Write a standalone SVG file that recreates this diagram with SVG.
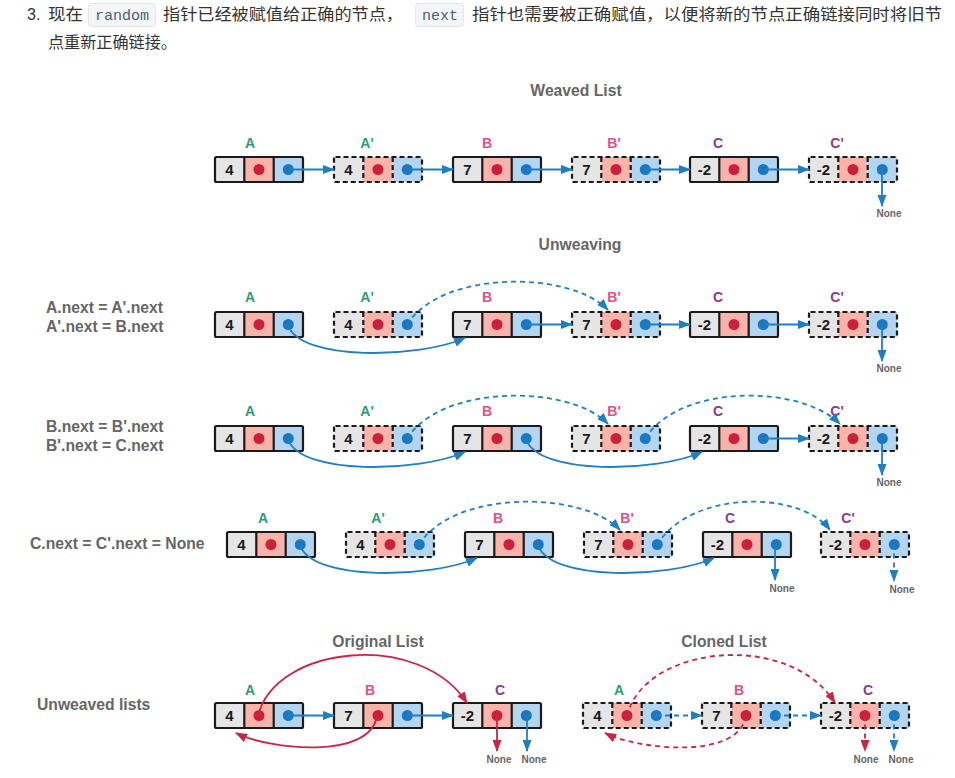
<svg xmlns="http://www.w3.org/2000/svg" xmlns:xlink="http://www.w3.org/1999/xlink" width="955" height="778" viewBox="0 0 955 778">
<style>
.body{font-family:"Noto Sans CJK SC","Liberation Sans",sans-serif;font-size:16px;fill:#333}
.num{font-family:"Liberation Sans",Arial,sans-serif;font-size:16px;fill:#333}
.code{font-family:"Liberation Mono","DejaVu Sans Mono",monospace;font-size:15px;fill:#4a6079}
.codebox{fill:#f3f5f7;stroke:#e2e6ea;stroke-width:1}
.title{font-family:"Liberation Sans",Arial,sans-serif;font-weight:bold;font-size:15.7px;fill:#666;text-anchor:middle}
.side{font-family:"Liberation Sans",Arial,sans-serif;font-weight:bold;font-size:15.7px;fill:#666}
.val{font-family:"Liberation Sans",Arial,sans-serif;font-weight:bold;font-size:15px;fill:#1a1a1a;text-anchor:middle}
.lbl{font-family:"Liberation Sans",Arial,sans-serif;font-weight:bold;font-size:14px;text-anchor:middle}
.la{fill:#2a9d78}.lb{fill:#e2508a}.lc{fill:#8c3a8f}
.none{font-family:"Liberation Sans",Arial,sans-serif;font-weight:bold;font-size:10px;fill:#666;text-anchor:middle}
.cb{fill:none;stroke:#1f7fc4;stroke-width:1.8;marker-end:url(#ab)}
.cr{fill:none;stroke:#cc2444;stroke-width:1.8;marker-end:url(#ar)}
.dash{stroke-dasharray:5 4}
</style>
<defs>
<marker id="ab" markerUnits="userSpaceOnUse" markerWidth="12" markerHeight="9" refX="11" refY="4.5" orient="auto"><path d="M0,0 L12,4.5 L0,9 z" fill="#1f7fc4"/></marker>
<marker id="ar" markerUnits="userSpaceOnUse" markerWidth="12" markerHeight="9" refX="11" refY="4.5" orient="auto"><path d="M0,0 L12,4.5 L0,9 z" fill="#cc2444"/></marker>
<g id="ns">
<rect x="0" y="0" width="29.3" height="25" fill="#e5e5e5"/>
<rect x="29.3" y="0" width="29.4" height="25" fill="#f8b4ab"/>
<rect x="58.7" y="0" width="29.3" height="25" fill="#b4d5ef"/>
<rect x="0" y="0" width="88" height="25" rx="1.5" fill="none" stroke="#1a1a1a" stroke-width="2.2"/>
<path d="M29.3,0V25M58.7,0V25" stroke="#1a1a1a" stroke-width="2.2"/>
<circle cx="44" cy="12.5" r="5.5" fill="#cc1f3d"/>
<circle cx="73.3" cy="12.5" r="5.5" fill="#1a78c2"/>
</g>
<g id="nd">
<rect x="0" y="0" width="29.3" height="25" fill="#e5e5e5"/>
<rect x="29.3" y="0" width="29.4" height="25" fill="#f8b4ab"/>
<rect x="58.7" y="0" width="29.3" height="25" fill="#b4d5ef"/>
<rect x="0" y="0" width="88" height="25" rx="1.5" fill="none" stroke="#1a1a1a" stroke-width="2.2" stroke-dasharray="5 3"/>
<path d="M29.3,0V25M58.7,0V25" stroke="#1a1a1a" stroke-width="2.2" stroke-dasharray="5 3"/>
<circle cx="44" cy="12.5" r="5.5" fill="#cc1f3d"/>
<circle cx="73.3" cy="12.5" r="5.5" fill="#1a78c2"/>
</g>
</defs>
<rect width="955" height="778" fill="#fff"/>

<g id="intro">
<text class="num" x="27" y="20">3.</text>
<text class="body" x="48" y="20" textLength="35" lengthAdjust="spacingAndGlyphs">现在</text>
<rect class="codebox" x="88.5" y="3.5" width="67" height="23" rx="3"/>
<text class="code" x="95" y="20" textLength="54">random</text>
<text class="body" x="163" y="20" textLength="240" lengthAdjust="spacingAndGlyphs">指针已经被赋值给正确的节点，</text>
<rect class="codebox" x="415.5" y="3.5" width="48" height="23" rx="3"/>
<text class="code" x="422" y="20" textLength="36">next</text>
<text class="body" x="472" y="20" textLength="470" lengthAdjust="spacingAndGlyphs">指针也需要被正确赋值，以便将新的节点正确链接同时将旧节</text>
<text class="body" x="48" y="48" textLength="129" lengthAdjust="spacingAndGlyphs">点重新正确链接。</text>
</g>

<g id="titles">
<text class="title" x="576" y="96">Weaved List</text>
<text class="title" x="580" y="250">Unweaving</text>
<text class="title" x="378" y="647">Original List</text>
<text class="title" x="724" y="647">Cloned List</text>
<text class="side" x="46" y="313">A.next = A'.next</text>
<text class="side" x="46" y="332">A'.next = B.next</text>
<text class="side" x="46" y="432">B.next = B'.next</text>
<text class="side" x="46" y="451">B'.next = C.next</text>
<text class="side" x="30" y="549">C.next = C'.next = None</text>
<text class="side" x="37" y="710">Unweaved lists</text>
</g>

<!-- Row 1 -->
<g id="r1-A"><use xlink:href="#ns" x="215" y="157"/><text class="val" x="229.5" y="175">4</text><text class="lbl la" x="250" y="148">A</text></g>
<g id="r1-A2"><use xlink:href="#nd" x="334" y="157"/><text class="val" x="348.5" y="175">4</text><text class="lbl la" x="367" y="148">A'</text></g>
<g id="r1-B"><use xlink:href="#ns" x="453" y="157"/><text class="val" x="467.5" y="175">7</text><text class="lbl lb" x="487" y="148">B</text></g>
<g id="r1-B2"><use xlink:href="#nd" x="572" y="157"/><text class="val" x="586.5" y="175">7</text><text class="lbl lb" x="614" y="148">B'</text></g>
<g id="r1-C"><use xlink:href="#ns" x="690" y="157"/><text class="val" x="704.5" y="175">-2</text><text class="lbl lc" x="718" y="148">C</text></g>
<g id="r1-C2"><use xlink:href="#nd" x="809" y="157"/><text class="val" x="823.5" y="175">-2</text><text class="lbl lc" x="837" y="148">C'</text></g>
<text class="none" x="889" y="217">None</text>

<!-- Row 2 -->
<g id="r2-A"><use xlink:href="#ns" x="215" y="312"/><text class="val" x="229.5" y="330">4</text><text class="lbl la" x="250" y="302">A</text></g>
<g id="r2-A2"><use xlink:href="#nd" x="334" y="312"/><text class="val" x="348.5" y="330">4</text><text class="lbl la" x="367" y="302">A'</text></g>
<g id="r2-B"><use xlink:href="#ns" x="453" y="312"/><text class="val" x="467.5" y="330">7</text><text class="lbl lb" x="487" y="302">B</text></g>
<g id="r2-B2"><use xlink:href="#nd" x="572" y="312"/><text class="val" x="586.5" y="330">7</text><text class="lbl lb" x="614" y="302">B'</text></g>
<g id="r2-C"><use xlink:href="#ns" x="690" y="312"/><text class="val" x="704.5" y="330">-2</text><text class="lbl lc" x="718" y="302">C</text></g>
<g id="r2-C2"><use xlink:href="#nd" x="809" y="312"/><text class="val" x="823.5" y="330">-2</text><text class="lbl lc" x="837" y="302">C'</text></g>
<text class="none" x="889" y="372">None</text>

<!-- Row 3 -->
<g id="r3-A"><use xlink:href="#ns" x="215" y="426"/><text class="val" x="229.5" y="444">4</text><text class="lbl la" x="250" y="416">A</text></g>
<g id="r3-A2"><use xlink:href="#nd" x="334" y="426"/><text class="val" x="348.5" y="444">4</text><text class="lbl la" x="367" y="416">A'</text></g>
<g id="r3-B"><use xlink:href="#ns" x="453" y="426"/><text class="val" x="467.5" y="444">7</text><text class="lbl lb" x="487" y="416">B</text></g>
<g id="r3-B2"><use xlink:href="#nd" x="572" y="426"/><text class="val" x="586.5" y="444">7</text><text class="lbl lb" x="614" y="416">B'</text></g>
<g id="r3-C"><use xlink:href="#ns" x="690" y="426"/><text class="val" x="704.5" y="444">-2</text><text class="lbl lc" x="718" y="416">C</text></g>
<g id="r3-C2"><use xlink:href="#nd" x="809" y="426"/><text class="val" x="823.5" y="444">-2</text><text class="lbl lc" x="837" y="416">C'</text></g>
<text class="none" x="889" y="486">None</text>

<!-- Row 4 -->
<g id="r4-A"><use xlink:href="#ns" x="227" y="532"/><text class="val" x="241.5" y="550">4</text><text class="lbl la" x="263" y="523">A</text></g>
<g id="r4-A2"><use xlink:href="#nd" x="346" y="532"/><text class="val" x="360.5" y="550">4</text><text class="lbl la" x="378" y="523">A'</text></g>
<g id="r4-B"><use xlink:href="#ns" x="465" y="532"/><text class="val" x="479.5" y="550">7</text><text class="lbl lb" x="498" y="523">B</text></g>
<g id="r4-B2"><use xlink:href="#nd" x="584" y="532"/><text class="val" x="598.5" y="550">7</text><text class="lbl lb" x="627" y="523">B'</text></g>
<g id="r4-C"><use xlink:href="#ns" x="703" y="532"/><text class="val" x="717.5" y="550">-2</text><text class="lbl lc" x="730" y="523">C</text></g>
<g id="r4-C2"><use xlink:href="#nd" x="821" y="532"/><text class="val" x="835.5" y="550">-2</text><text class="lbl lc" x="848" y="523">C'</text></g>
<text class="none" x="782" y="592">None</text>
<text class="none" x="902" y="593">None</text>

<!-- Row 5 original -->
<g id="o-A"><use xlink:href="#ns" x="215" y="703"/><text class="val" x="229.5" y="721">4</text><text class="lbl la" x="250" y="695">A</text></g>
<g id="o-B"><use xlink:href="#ns" x="334" y="703"/><text class="val" x="348.5" y="721">7</text><text class="lbl lb" x="370" y="695">B</text></g>
<g id="o-C"><use xlink:href="#ns" x="453" y="703"/><text class="val" x="467.5" y="721">-2</text><text class="lbl lc" x="500" y="695">C</text></g>
<text class="none" x="499" y="763">None</text>
<text class="none" x="534" y="763">None</text>

<!-- Row 5 cloned -->
<g id="k-A"><use xlink:href="#nd" x="583" y="703"/><text class="val" x="597.5" y="721">4</text><text class="lbl la" x="619" y="695">A</text></g>
<g id="k-B"><use xlink:href="#nd" x="702" y="703"/><text class="val" x="716.5" y="721">7</text><text class="lbl lb" x="739" y="695">B</text></g>
<g id="k-C"><use xlink:href="#nd" x="821" y="703"/><text class="val" x="835.5" y="721">-2</text><text class="lbl lc" x="868" y="695">C</text></g>
<text class="none" x="866" y="763">None</text>
<text class="none" x="901" y="763">None</text>

<g id="connectors">
<!-- row 1 -->
<path class="cb" d="M288,169.5H334"/>
<path class="cb" d="M407,169.5H453"/>
<path class="cb" d="M526,169.5H572"/>
<path class="cb" d="M645,169.5H690"/>
<path class="cb" d="M763,169.5H809"/>
<path class="cb" d="M882,169.5V206"/>
<!-- row 2 -->
<path class="cb" d="M288,325 C300,362 420,358 465,338"/>
<path class="cb dash" d="M407,325 C440,270 570,270 608,310"/>
<path class="cb" d="M526,324.5H572"/>
<path class="cb" d="M645,324.5H690"/>
<path class="cb" d="M763,324.5H809"/>
<path class="cb" d="M882,324.5V361"/>
<!-- row 3 -->
<path class="cb" d="M288,439 C300,476 420,472 465,452"/>
<path class="cb dash" d="M407,439 C440,384 570,384 608,424"/>
<path class="cb" d="M526,439 C538,476 658,472 702,452"/>
<path class="cb dash" d="M645,439 C678,384 800,384 840,424"/>
<path class="cb" d="M763,438.5H809"/>
<path class="cb" d="M882,438.5V475"/>
<!-- row 4 -->
<path class="cb" d="M300,545 C312,582 432,578 477,558"/>
<path class="cb dash" d="M419,545 C452,490 582,490 620,530"/>
<path class="cb" d="M538,545 C550,582 670,578 714,558"/>
<path class="cb dash" d="M657,545 C690,490 800,490 830,530"/>
<path class="cb" d="M775,544.5V580"/>
<path class="cb dash" d="M894,544.5V581"/>
<!-- original -->
<path class="cb" d="M288,715.5H334"/>
<path class="cb" d="M407,715.5H453"/>
<path class="cr" d="M258,716 C275,645 420,630 467,703"/>
<path class="cr" d="M377,716 C370,760 270,750 236,733"/>
<path class="cr" d="M497,715.5V751"/>
<path class="cb" d="M527,715.5V751"/>
<!-- cloned -->
<path class="cb dash" d="M656,715.5H702"/>
<path class="cb dash" d="M775,715.5H821"/>
<path class="cr dash" d="M627,716 C644,645 789,630 835,703"/>
<path class="cr dash" d="M746,716 C739,760 639,750 605,733"/>
<path class="cr dash" d="M865,715.5V751"/>
<path class="cb dash" d="M894,715.5V751"/>
</g>
</svg>
